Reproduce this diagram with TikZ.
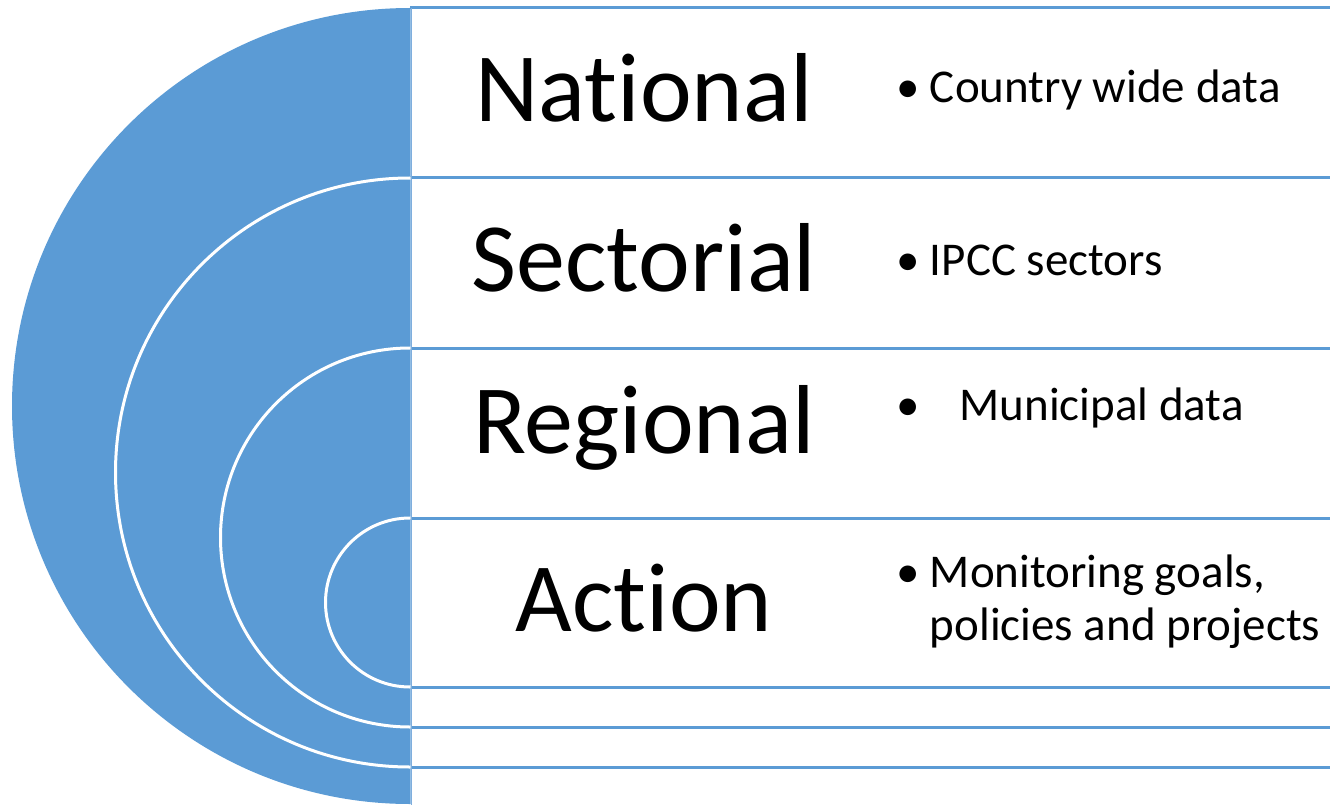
\documentclass[tikz,border=0pt]{standalone}
\usepackage{fontspec}
\setmainfont{Carlito}[Ligatures=NoCommon]
\definecolor{accent}{HTML}{5B9BD5}
\definecolor{edge}{HTML}{7FAEDD}
\newcommand\brk{\kern0pt }
\tikzset{
  band/.style={draw=accent, line width=3pt},
  ring/.style={draw=white, line width=3pt},
  title/.style={font=\fontsize{98}{100}\selectfont, anchor=center, inner sep=0pt},
  bullet/.style={font=\fontsize{47}{53}\selectfont, anchor=west, inner sep=0pt, align=left},
}
\begin{document}
\begin{tikzpicture}[x=1pt,y=-1pt]
\useasboundingbox (0,0) rectangle (1330,805);
\clip (0,0) rectangle (1330,805);
% bands
\foreach \yy in {8,178,348,518,687,727,767}{
  \draw[band] (410,\yy) -- (1340,\yy);
}
\draw[draw=edge, line width=1.2pt] (411.5,8) -- (411.5,810);
% half disc
\begin{scope}
  \clip (0,0) rectangle (410.5,810);
  \fill[accent] (410,406) circle (398);
  \draw[ring] (410,472.5) circle (294.5);
  \draw[ring] (410,537.5) circle (189.5);
  \draw[ring] (410,602.5) circle (84.5);
\end{scope}
% titles
\node[title] (t1) at (644,88) {Nat\brk ional};
\node[title] (t2) at (644,258) {Sectorial};
\node[title] (t3) at (644,428) {Regional};
\node[title] (t4) at (644,598) {Act\brk ion};
% bullets
\node[bullet] (b1) at (896,90) {•\hspace{0.22em}Country wide data};
\node[bullet] (b2) at (896,260) {•\hspace{0.22em}IPCC sectors};
\node[bullet] (b3) at (896,408) {•\hspace{0.85em}Municipal data};
\node[bullet] (b4) at (896,602) {•\hspace{0.22em}Monitoring goals,\\\hspace{0.22em}\phantom{•}policies and projects};
\end{tikzpicture}
\end{document}
